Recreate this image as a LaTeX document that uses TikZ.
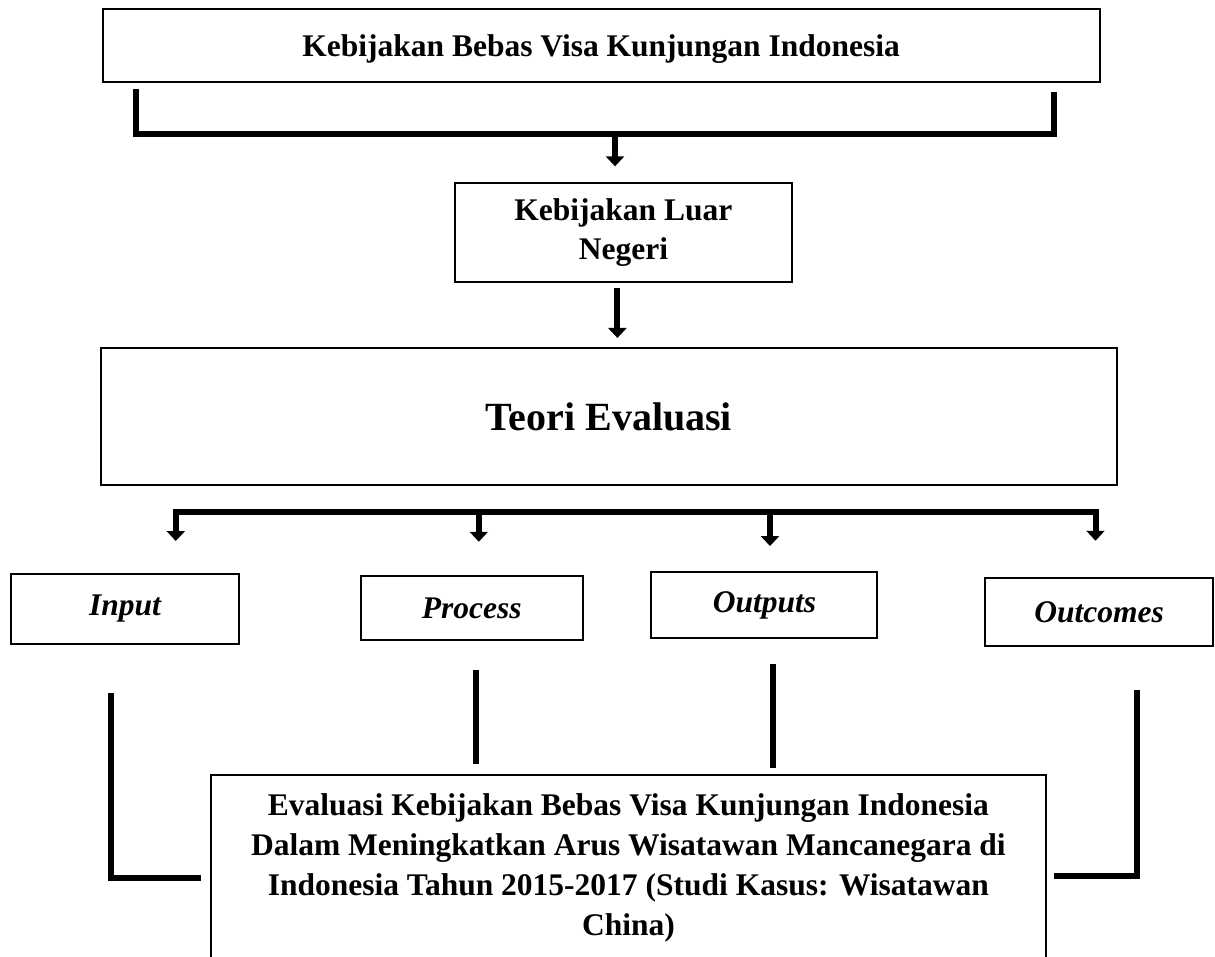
\documentclass[tikz,border=0pt]{standalone}
\usepackage{fontspec}
\setmainfont{Liberation Serif}
\usetikzlibrary{arrows.meta}
\begin{document}
\begin{tikzpicture}[x=1pt,y=-1pt,
  box/.style={draw,line width=2pt,inner sep=0pt,align=center,
    font=\fontsize{31.5}{39}\selectfont\bfseries},
  ibox/.style={box,font=\fontsize{31.5}{39}\selectfont\bfseries\itshape},
  thickline/.style={line width=6pt},
  arr/.style={line width=6pt,-{Triangle[width=18pt,length=10pt]}}]
\useasboundingbox (0,0) rectangle (1215,957);

% boxes
\node[box,minimum width=997pt,minimum height=73pt,text depth=0pt] (top) at (601.2,45.5)
  {Kebijakan Bebas Visa Kunjungan Indonesia};
\node[box,minimum width=336.7pt,minimum height=98.7pt] (luar) at (623.4,232.7)
  {\rule{0pt}{8pt}Kebijakan Luar\\Negeri};
\node[box,minimum width=1016.3pt,minimum height=137pt,
  font=\fontsize{40}{48}\selectfont\bfseries] (teori) at (608.9,416.5)
  {Teori Evaluasi};
\node[ibox,minimum width=228.6pt,minimum height=70pt] (input) at (125,609) {Input};
\node[ibox,minimum width=221.6pt,minimum height=64.3pt] (process) at (471.8,607.9) {Process};
\node[ibox,minimum width=225.9pt,minimum height=66.3pt] (outputs) at (764.4,605.2) {Outputs};
\node[ibox,minimum width=227.7pt,minimum height=68.3pt] (outcomes) at (1099.2,611.9) {Outcomes};
\node[box,minimum width=834.7pt,minimum height=186pt,font=\fontsize{31.5}{40}\selectfont\bfseries]
  (bottom) at (628.4,868)
  {Evaluasi Kebijakan Bebas Visa Kunjungan Indonesia\\
   Dalam Meningkatkan Arus Wisatawan Mancanegara di\\
   Indonesia Tahun 2015-2017 (Studi Kasus: Wisatawan\\
   China)};

% bracket under top box
\coordinate (bl) at (136,89);
\coordinate (br) at (1054,92);
\coordinate (bm) at (615,134);
\draw[thickline,line join=miter] (bl) -- (bl |- bm) -- (br |- bm) -- (br);
\draw[arr,shorten >=16pt] (bm) -- (bm |- luar.north);

% luar -> teori
\draw[arr,shorten <=5pt,shorten >=9pt] ([xshift=-6pt]luar.south) -- ([xshift=-6pt]luar.south |- teori.north);

% distribution bar
\coordinate (b1) at (175.8,512);
\coordinate (b2) at (478.8,512);
\coordinate (b3) at (770,512);
\coordinate (b4) at (1095.5,512);
\draw[thickline,line cap=rect] (b1) -- (b4);
\draw[arr,shorten >=32pt] (b1) -- (b1 |- input.north);
\draw[arr,shorten >=33pt] (b2) -- (b2 |- process.north);
\draw[arr,shorten >=25pt] (b3) -- (b3 |- outputs.north);
\draw[arr,shorten >=36pt] (b4) -- (b4 |- outcomes.north);

% lines to bottom box
\coordinate (l1) at (111,693);
\coordinate (l2) at (111,878);
\draw[thickline,line join=miter] (l1) -- (l2) -- ([xshift=-9pt]bottom.west |- l2);
\draw[thickline,shorten <=29pt,shorten >=10pt] ([xshift=4pt]process.south) -- ([xshift=4pt]process.south |- bottom.north);
\draw[thickline,shorten <=24.7pt,shorten >=6pt] ([xshift=9pt]outputs.south) -- ([xshift=9pt]outputs.south |- bottom.north);
\coordinate (r1) at (1137,690);
\coordinate (r2) at (1137,876);
\draw[thickline,line join=miter] (r1) -- (r2) -- ([xshift=7pt]bottom.east |- r2);
\end{tikzpicture}
\end{document}
